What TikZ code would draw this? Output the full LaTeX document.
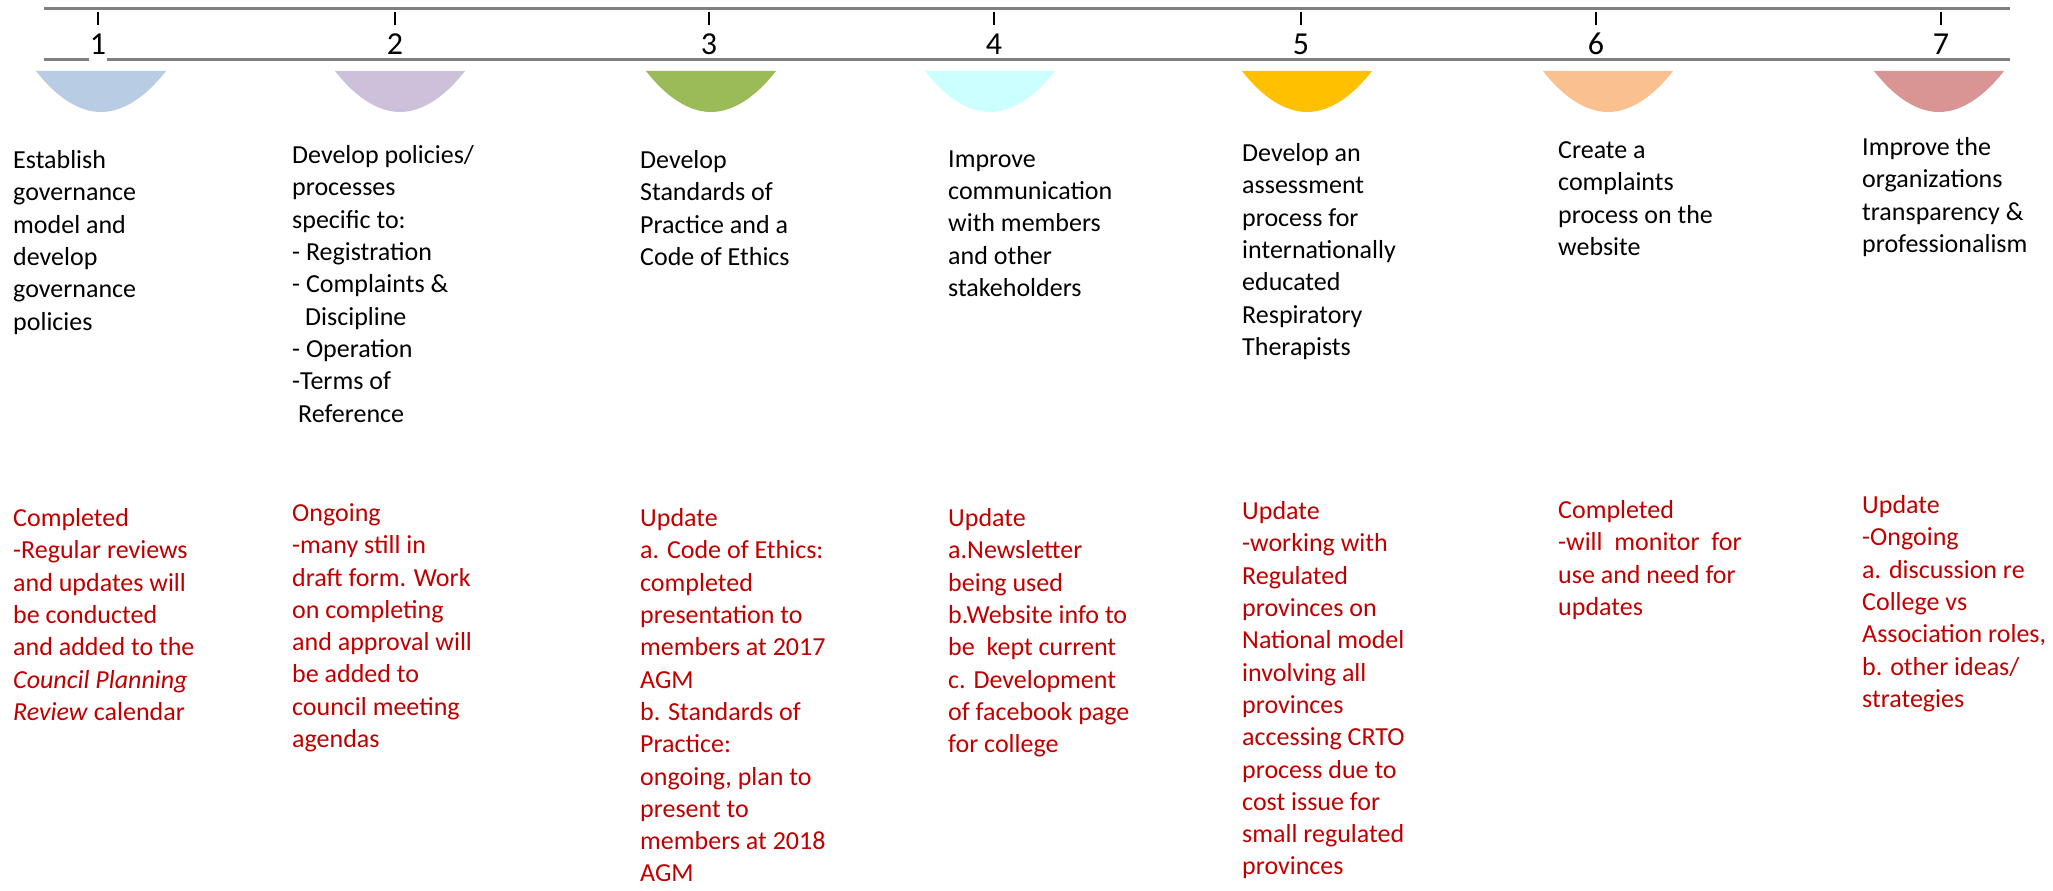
\documentclass[tikz,border=0pt]{standalone}
\usepackage{fontspec}
\setmainfont{Carlito}
\usepackage{xcolor}
\usepackage{tikz}
\definecolor{rulegray}{RGB}{128,128,128}
\definecolor{statred}{RGB}{192,0,0}
\definecolor{bowlone}{HTML}{B8CCE4}
\definecolor{bowltwo}{HTML}{CCC0DA}
\definecolor{bowlthree}{HTML}{9BBB59}
\definecolor{bowlfour}{HTML}{CCFFFF}
\definecolor{bowlfive}{HTML}{FFC000}
\definecolor{bowlsix}{HTML}{FAC090}
\definecolor{bowlseven}{HTML}{D99594}
\tikzset{goal/.style={anchor=north west, inner sep=0pt, align=left,
    font=\fontsize{26}{32.3}\selectfont, execute at begin node={\rule{0pt}{22.6pt}}},
  status/.style={goal, text=statred},
  stepnum/.style={anchor=base, inner sep=0pt, font=\fontsize{32}{32}\selectfont}}

\begin{document}
\begin{tikzpicture}[x=1pt,y=-1pt]
   \useasboundingbox (0,0) rectangle (2053,891);
   \draw[rulegray, line width=3pt] (44,8.3) -- (2010,8.3);
   \draw[rulegray, line width=3.3pt] (44,59.5) -- (89,59.5);
   \draw[rulegray, line width=3.3pt] (107,59.5) -- (2010,59.5);
   \foreach \x/\b/\n/\c in {98/101/1/bowlone, 395/400/2/bowltwo, 709/711/3/bowlthree,
       994/990/4/bowlfour, 1301/1307/5/bowlfive, 1596/1608/6/bowlsix, 1941/1939/7/bowlseven}{
     \draw[line width=1.3pt] (\x,11.7) -- (\x,25);
     \node[stepnum] (n\n) at (\x,55) {\n};
     \fill[\c] (\b-65,71) parabola bend (\b,112) (\b+65,71) -- cycle;
   }
   % goals
   \node[goal] (g1) at (13,150.4) {Establish\\governance\\model and\\develop\\governance\\policies};
   \node[goal] (g2) at (292,145.4) {Develop policies/\\processes\\specific to:\\- Registration\\- Complaints \&\\\hspace*{13pt}Discipline\\- Operation\\-Terms of\\\hspace*{6pt}Reference};
   \node[goal] (g3) at (640,150.4) {Develop\\Standards of\\Practice and a\\Code of Ethics};
   \node[goal] (g4) at (948,150.4) {Improve\\communication\\with members\\and other\\stakeholders};
   \node[goal] (g5) at (1242,143.4) {Develop an\\assessment\\process for\\internationally\\educated\\Respiratory\\Therapists};
   \node[goal] (g6) at (1558,141.4) {Create a\\complaints\\process on the\\website};
   \node[goal] (g7) at (1862,137.4) {Improve the\\organizations\\transparency \&\\professionalism};
   % status
   \node[status] (s1) at (13,508.4) {Completed\\-Regular reviews\\and updates will\\be conducted\\and added to the\\\textit{Council Planning}\\\textit{Review} calendar};
   \node[status] (s2) at (292,503.4) {Ongoing\\-many still in\\draft form. Work\\on completing\\and approval will\\be added to\\council meeting\\agendas};
   \node[status] (s3) at (640,508.4) {Update\\a. Code of Ethics:\\completed\\presentation to\\members at 2017\\AGM\\b. Standards of\\Practice:\\ongoing, plan to\\present to\\members at 2018\\AGM};
   \node[status] (s4) at (948,508.4) {Update\\a.Newsletter\\being used\\b.Website info to\\be\ \ kept current\\c. Development\\of facebook page\\for college};
   \node[status] (s5) at (1242,501.4) {Update\\-working with\\Regulated\\provinces on\\National model\\involving all\\provinces\\accessing CRTO\\process due to\\cost issue for\\small regulated\\provinces};
   \node[status] (s6) at (1558,500.4) {Completed\\-will\ \ monitor\ \ for\\use and need for\\updates};
   \node[status] (s7) at (1862,495.4) {Update\\-Ongoing\\a. discussion re\\College vs\\Association roles,\\b. other ideas/\\strategies};
\end{tikzpicture}
\end{document}
